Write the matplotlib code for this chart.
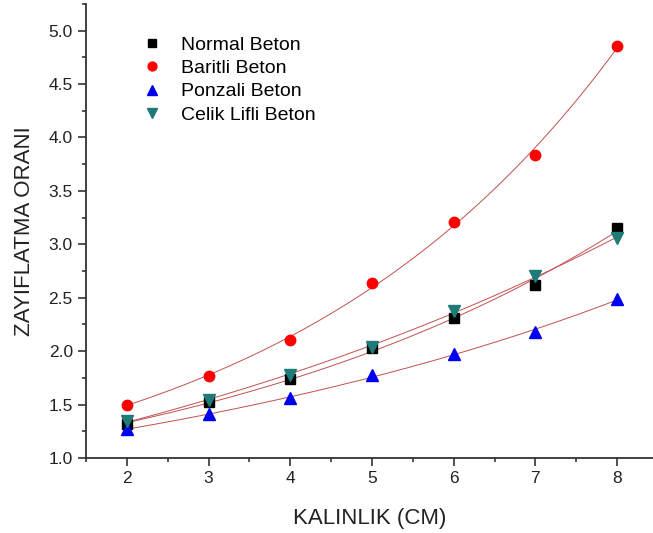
import numpy as np
import matplotlib
matplotlib.use("Agg")
import matplotlib.pyplot as plt
from matplotlib.ticker import MultipleLocator

plt.rcParams['font.family'] = ['Liberation Sans', 'DejaVu Sans']

# thickness (cm)
kalinlik = [2, 3, 4, 5, 6, 7, 8]

# attenuation ratios
normal = [1.32, 1.52, 1.74, 2.03, 2.31, 2.62, 3.15]
baritli = [1.50, 1.77, 2.10, 2.64, 3.21, 3.84, 4.86]
ponzali = [1.27, 1.41, 1.56, 1.78, 1.97, 2.18, 2.49]
celik = [1.345, 1.54, 1.78, 2.04, 2.38, 2.70, 3.06]

names = ['Normal Beton', 'Baritli Beton', 'Ponzali Beton', 'Celik Lifli Beton']
colors = ['black', '#ff0000', '#0000ee', '#1e7b78']
markers = ['s', 'o', '^', 'v']
msizes = [6.5, 7.5, 8.5, 8.5]


def expgrow_fit(x, y):
    # y = y0 + A*exp(x/t), search y0 and do a log-linear fit for the rest
    x = np.asarray(x, float)
    y = np.asarray(y, float)
    best = None
    for y0 in np.linspace(-3, min(y) - 0.01, 600):
        b, a = np.polyfit(x, np.log(y - y0), 1)
        pred = y0 + np.exp(a + b * x)
        err = np.sum((pred - y) ** 2)
        if best is None or err < best[0]:
            best = (err, y0, a, b)
    _, y0, a, b = best
    return lambda xx: y0 + np.exp(a + b * xx)


fig = plt.figure(figsize=(6.53, 5.33), dpi=100)
ax = fig.add_axes([0.1317, 0.1407, 0.8683, 0.852])

xs = np.linspace(2, 8, 200)
for data, name, c, m, ms in zip([normal, baritli, ponzali, celik], names, colors, markers, msizes):
    f = expgrow_fit(kalinlik, data)
    ax.plot(xs, f(xs), color='#c05050', lw=0.7, zorder=2)
    ax.plot(kalinlik, data, linestyle='none', marker=m, color=c, markersize=ms,
            label=name, zorder=3)

ax.set_xlim(1.5, 8.44)
ax.set_ylim(1.0, 5.25)
ax.xaxis.set_major_locator(MultipleLocator(1))
ax.xaxis.set_minor_locator(MultipleLocator(0.5))
ax.yaxis.set_major_locator(MultipleLocator(0.5))
ax.yaxis.set_minor_locator(MultipleLocator(0.25))
ax.yaxis.set_major_formatter(matplotlib.ticker.FormatStrFormatter('%.1f'))

for s in ['top', 'right']:
    ax.spines[s].set_visible(False)
for s in ['left', 'bottom']:
    ax.spines[s].set_color('#333333')
    ax.spines[s].set_linewidth(1.3)

ax.tick_params(which='major', direction='out', length=5.5, width=1.2, color='#333333',
               labelsize=12.5, labelcolor='#222222', pad=4)
ax.tick_params(which='minor', direction='out', length=3, width=1.2, color='#333333')

ax.set_xlabel('KALINLIK (CM)', fontsize=16, color='#222222', labelpad=16)
ax.set_ylabel('ZAYIFLATMA ORANI', fontsize=16, color='#222222', labelpad=10)

ax.legend(loc='upper left', bbox_to_anchor=(141 / 653, 1 - 36 / 533),
          bbox_transform=fig.transFigure, frameon=False, fontsize=14,
          borderpad=0, borderaxespad=0, handletextpad=0.9, labelspacing=0.3,
          handlelength=1.15, markerscale=0.85)

fig.savefig('out.png', dpi=100)
